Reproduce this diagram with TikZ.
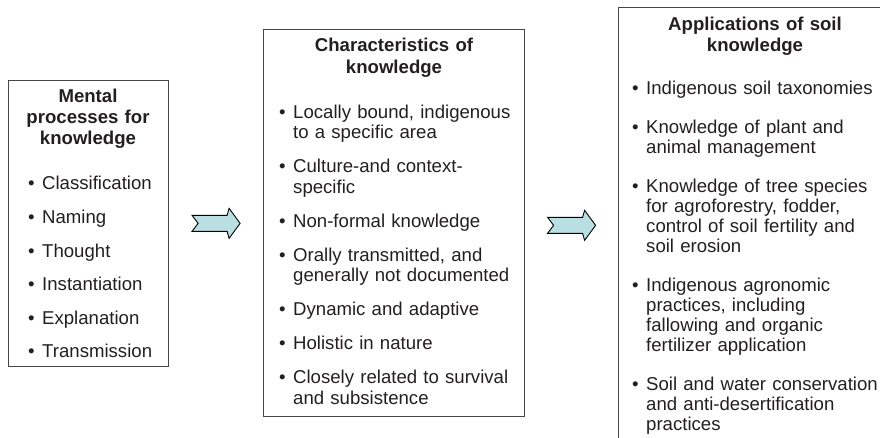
\documentclass[tikz,border=0pt]{standalone}
\usepackage{fontspec}
\setmainfont{Liberation Sans}
\usetikzlibrary{calc}
\definecolor{arrowfill}{RGB}{186,223,227}
\definecolor{ink}{RGB}{35,31,32}
\definecolor{frame}{RGB}{70,70,70}
\newcommand\bitem[1]{\hangindent=14pt\hangafter=1\makebox[14pt][l]{\textbullet}#1\par}

\begin{document}
\begin{tikzpicture}[x=1pt, y=-1pt,
    box/.style={rectangle, draw=frame, line width=1.2pt, anchor=north west, inner sep=0pt},
    head/.style={anchor=base, text width=250pt, align=center, inner sep=0pt, text=ink},
    items/.style={anchor=base west, text width=260pt, align=left, inner sep=0pt, text=ink},
    chevron/.style={fill=arrowfill, draw=black, line width=0.9pt, line join=miter}]
\useasboundingbox (0, 0) rectangle (880, 438);
\clip (0, 0) rectangle (880, 438);

    %three frames
    \node at (8, 80) [box, minimum width=160pt, minimum height=286pt] (mental) {};
    \node at (263, 29) [box, minimum width=261pt, minimum height=387pt] (charac) {};
    \node at (618, 7) [box, minimum width=274pt, minimum height=440pt] (applic) {};

    %headings
    \node at (88, 103) [head, font=\fontsize{18.6}{21}\selectfont\bfseries] (mentalhead) {Mental\\processes for\\knowledge};
    \node at (394, 51.5) [head, font=\fontsize{18.6}{22}\selectfont\bfseries] (charachead) {Characteristics of\\knowledge};
    \node at (755, 30.5) [head, font=\fontsize{18.6}{21}\selectfont\bfseries] (applichead) {Applications of soil\\knowledge};

    %bullet lists
    \node at (28, 190) [items, font=\fontsize{18.6}{21}\selectfont] (mentallist) {\setlength\parskip{12.6pt}%
        \bitem{Classification}
        \bitem{Naming}
        \bitem{Thought}
        \bitem{Instantiation}
        \bitem{Explanation}
        \bitem{Transmission}};
    \node at (279, 118.5) [items, font=\fontsize{18.6}{20.5}\selectfont] (characlist) {\setlength\parskip{13.5pt}%
        \bitem{Locally bound, indigenous\newline to a specific area}
        \bitem{Culture-and context-\newline specific}
        \bitem{Non-formal knowledge}
        \bitem{Orally transmitted, and\newline generally not documented}
        \bitem{Dynamic and adaptive}
        \bitem{Holistic in nature}
        \bitem{Closely related to survival\newline and subsistence}};
    \node at (632, 94.5) [items, font=\fontsize{18.6}{20}\selectfont] (appliclist) {\setlength\parskip{19pt}%
        \bitem{Indigenous soil taxonomies}
        \bitem{Knowledge of plant and\newline animal management}
        \bitem{Knowledge of tree species\newline for agroforestry, fodder,\newline control of soil fertility and\newline soil erosion}
        \bitem{Indigenous agronomic\newline practices, including\newline fallowing and organic\newline fertilizer application}
        \bitem{Soil and water conservation\newline and anti-desertification\newline practices}};

    %block arrows between the frames
    \coordinate (arrA) at ($(mental.east)!0.5!(charac.west)$);
    \coordinate (arrB) at ($(charac.east)!0.5!(applic.west)$);
    \draw [chevron, shift={(arrA)}] (-24, -8) -- (11, -8) -- (13, -15) -- (24, 0) -- (13, 15) -- (11, 8) -- (-24, 8) -- (-18, 0) -- cycle;
    \draw [chevron, shift={(arrB)}] (-24, -8) -- (11, -8) -- (13, -15) -- (24, 0) -- (13, 15) -- (11, 8) -- (-24, 8) -- (-18, 0) -- cycle;
\end{tikzpicture}
\end{document}
